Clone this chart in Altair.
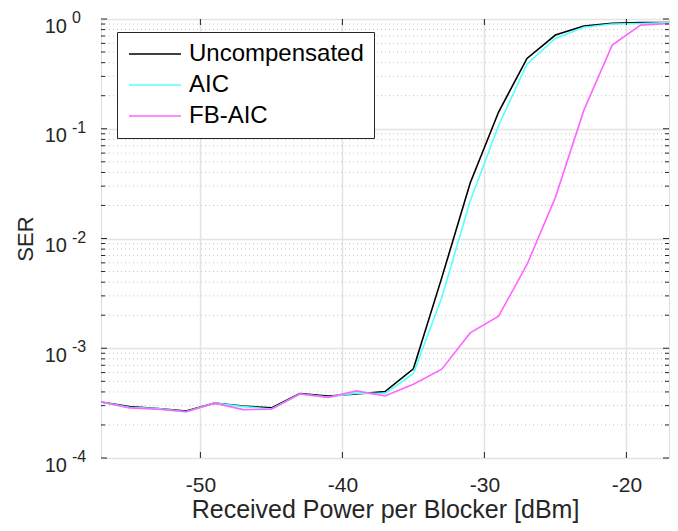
import altair as alt
import pandas as pd

# ---- data ----
power_dbm = [-57, -55, -53, -51, -49, -47, -45, -43, -41, -39, -37,
             -35, -33, -31, -29, -27, -25, -23, -21, -19, -17]
ser_uncomp = [3.24e-4, 2.94e-4, 2.82e-4, 2.68e-4, 3.16e-4, 2.98e-4, 2.86e-4,
              3.86e-4, 3.67e-4, 3.83e-4, 4.03e-4, 6.5e-4, 4.4e-3, 3.2e-2,
              0.142, 0.437, 0.714, 0.863, 0.912, 0.93, 0.93]
ser_aic = [3.24e-4, 2.90e-4, 2.82e-4, 2.64e-4, 3.16e-4, 2.94e-4, 2.80e-4,
           3.83e-4, 3.60e-4, 3.90e-4, 3.86e-4, 5.9e-4, 2.9e-3, 2.2e-2,
           0.107, 0.39, 0.665, 0.84, 0.90, 0.91, 0.93]
ser_fbaic = [3.24e-4, 2.86e-4, 2.78e-4, 2.64e-4, 3.16e-4, 2.76e-4, 2.78e-4,
             3.83e-4, 3.57e-4, 4.09e-4, 3.67e-4, 4.7e-4, 6.44e-4, 1.38e-3,
             1.96e-3, 5.8e-3, 2.37e-2, 0.147, 0.578, 0.88, 0.91]
series_names = ["Uncompensated", "AIC", "FB-AIC"]
series_colors = ["#000000", "#55ffff", "#ff66ff"]

x_ticks = [-50, -40, -30, -20]
y_decades = [1e-4, 1e-3, 1e-2, 1e-1, 1e0]
y_exponents = ["-4", "-3", "-2", "-1", "0"]
y_minor = [k * 10.0 ** e for e in (-4, -3, -2, -1) for k in range(2, 10)]

W, H = 568, 439
FONT = "Liberation Sans"
AXC = "#262626"

rows = []
for name, vals in zip(series_names, [ser_uncomp, ser_aic, ser_fbaic]):
    for p, v in zip(power_dbm, vals):
        rows.append({"p": p, "ser": v, "series": name})
lines_df = pd.DataFrame(rows)
dec_df = pd.DataFrame({"ser": y_decades, "e": y_exponents})
minor_df = pd.DataFrame({"ser": y_minor})
xt_df = pd.DataFrame({"p": x_ticks})

xscale = alt.Scale(domain=[-57, -17], nice=False, zero=False)
yscale = alt.Scale(type="log", domain=[1e-4, 1], nice=False)

x_axis = alt.Axis(values=x_ticks, title="Received Power per Blocker [dBm]",
                  grid=True, gridColor="#e3e3e3", gridWidth=1.5,
                  domain=False, ticks=False, tickSize=0,
                  labelExpr="'' + datum.value",
                  labelFont=FONT, labelFontSize=21, labelColor=AXC,
                  labelBaseline="alphabetic", labelPadding=33,
                  titleFont=FONT, titleFontSize=25, titleColor=AXC,
                  titleFontWeight="normal", titleBaseline="alphabetic",
                  titleY=59)
y_axis = alt.Axis(values=y_decades, title="SER", grid=True,
                  gridColor="#e3e3e3", gridWidth=1.5, domain=False,
                  ticks=False, tickSize=0, labels=False,
                  titleFont=FONT, titleFontSize=22, titleColor=AXC,
                  titleFontWeight="normal", titleBaseline="alphabetic",
                  titleAngle=270, titleX=-69, titleY=H / 2)

X = lambda: alt.X("p:Q", scale=xscale, axis=x_axis)
Y = lambda: alt.Y("ser:Q", scale=yscale, axis=y_axis)

minor_grid = alt.Chart(minor_df).mark_rule(
    color="#c4c4c4", strokeWidth=1, strokeDash=[1, 3]
).encode(y=Y(), x=alt.value(0), x2=alt.value(W))

lines = alt.Chart(lines_df).mark_line(strokeWidth=1.6).encode(
    x=X(),
    y=Y(),
    color=alt.Color("series:N",
                    scale=alt.Scale(domain=series_names, range=series_colors),
                    sort=series_names,
                    legend=alt.Legend(title=None, orient="none", legendX=16, legendY=13,
                                      symbolType="M-1,0H4.2", symbolSize=400,
                                      symbolStrokeWidth=1.6, labelOffset=38,
                                      labelFont=FONT, labelFontSize=24, labelColor="#000000",
                                      rowPadding=7, padding=10, strokeColor="#262626",
                                      fillColor="#ffffff", labelLimit=400)),
    order=alt.Order("p:Q"),
)

tick_x_bottom = alt.Chart(xt_df).mark_rule(color=AXC, strokeWidth=1).encode(
    x=X(), y=alt.value(H), y2=alt.value(H - 6))
tick_x_top = alt.Chart(xt_df).mark_rule(color=AXC, strokeWidth=1).encode(
    x=X(), y=alt.value(0), y2=alt.value(6))
tick_y_left = alt.Chart(dec_df).mark_rule(color=AXC, strokeWidth=1).encode(
    y=Y(), x=alt.value(0), x2=alt.value(6))
tick_y_right = alt.Chart(dec_df).mark_rule(color=AXC, strokeWidth=1).encode(
    y=Y(), x=alt.value(W), x2=alt.value(W - 6))
mtick_left = alt.Chart(minor_df).mark_rule(color=AXC, strokeWidth=1).encode(
    y=Y(), x=alt.value(0), x2=alt.value(4))
mtick_right = alt.Chart(minor_df).mark_rule(color=AXC, strokeWidth=1).encode(
    y=Y(), x=alt.value(W), x2=alt.value(W - 4))

ylab_base = alt.Chart(dec_df).mark_text(
    font=FONT, fontSize=20, color=AXC, align="right", baseline="alphabetic", dy=13.5
).encode(y=Y(), x=alt.value(-34), text=alt.value("10"))
ylab_exp = alt.Chart(dec_df).mark_text(
    font=FONT, fontSize=16, color=AXC, align="left", baseline="alphabetic", dy=4
).encode(y=Y(), x=alt.value(-29), text="e:N")

chart = alt.layer(
    minor_grid, lines, tick_x_bottom, tick_x_top, tick_y_left, tick_y_right,
    mtick_left, mtick_right, ylab_base, ylab_exp
).properties(
    width=W, height=H,
    autosize=alt.AutoSizeParams(type="none"),
    padding={"left": 93, "top": 11, "right": 1, "bottom": 70},
    background="#ffffff",
).configure_view(stroke=AXC, strokeWidth=1.5).configure(font=FONT)

chart.save("out.html", embed_options={"renderer": "svg", "actions": False})
